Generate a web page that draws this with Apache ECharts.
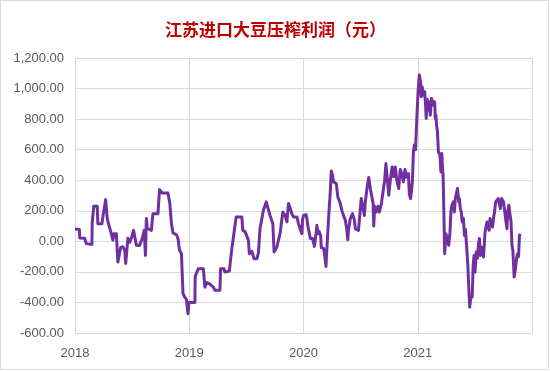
<!DOCTYPE html>
<html>
<head>
<meta charset="utf-8">
<script src="https://cdn.jsdelivr.net/npm/echarts@6/dist/echarts.min.js"></script>
<style>
html,body{margin:0;padding:0;background:#fff;}
#c{width:550px;height:371px;}
</style>
</head>
<body>
<div id="c"></div>
<script>
var titleText = '江苏进口大豆压榨利润（元）';
var yearTicks = [2018, 2019, 2020, 2021, 2022];
var yTicks = [-600, -400, -200, 0, 200, 400, 600, 800, 1000, 1200];

var profit2018 = [['2018-01-01',80],['2018-01-15',78],['2018-01-16',22],['2018-02-01',20],['2018-02-06',-15],['2018-02-24',-20],['2018-02-25',120],['2018-03-02',230],['2018-03-13',230],['2018-03-15',115],['2018-03-28',115],['2018-03-31',160],['2018-04-09',273],['2018-04-14',150],['2018-04-18',115],['2018-04-27',50],['2018-05-02',7],['2018-05-05',50],['2018-05-13',50],['2018-05-18',-135],['2018-05-24',-135],['2018-05-27',-40],['2018-06-03',-35],['2018-06-09',-60],['2018-06-12',-145],['2018-06-17',-145],['2018-06-19',20],['2018-06-25',-5],['2018-06-30',20],['2018-07-07',72],['2018-07-11',60],['2018-07-16',-25],['2018-07-26',-28],['2018-08-01',-35],['2018-08-04',20],['2018-08-10',72],['2018-08-14',-92],['2018-08-17',149],['2018-08-20',85],['2018-08-25',98],['2018-09-02',72],['2018-09-07',181],['2018-09-23',181],['2018-09-28',339],['2018-10-06',317],['2018-10-25',317],['2018-10-31',247],['2018-11-05',118],['2018-11-10',55],['2018-11-21',43],['2018-11-26',20],['2018-12-01',-59],['2018-12-07',-80],['2018-12-12',-341],['2018-12-17',-363],['2018-12-23',-380],['2018-12-28',-474],['2018-12-31',-400]];

var profit2019 = [['2019-01-19',-400],['2019-01-20',-230],['2019-01-30',-179],['2019-02-15',-179],['2019-02-20',-300],['2019-02-26',-270],['2019-03-08',-280],['2019-03-19',-300],['2019-03-24',-320],['2019-04-09',-320],['2019-04-11',-179],['2019-04-22',-179],['2019-04-25',-201],['2019-05-09',-195],['2019-05-17',-48],['2019-05-22',-40],['2019-05-31',160],['2019-06-18',160],['2019-06-21',72],['2019-06-28',65],['2019-07-09',7],['2019-07-12',-81],['2019-07-20',-65],['2019-07-27',-114],['2019-08-05',-114],['2019-08-10',-75],['2019-08-15',83],['2019-08-21',83],['2019-08-26',203],['2019-09-04',258],['2019-09-09',220],['2019-09-16',170],['2019-09-25',116],['2019-09-29',-70],['2019-10-08',-37],['2019-10-18',50],['2019-10-27',192],['2019-11-03',170],['2019-11-09',127],['2019-11-14',247],['2019-11-19',220],['2019-11-25',180],['2019-11-30',160],['2019-12-05',170],['2019-12-11',160],['2019-12-16',116],['2019-12-21',83],['2019-12-27',50],['2019-12-29',140]];

var profit2020 = [['2020-01-01',170],['2020-01-09',175],['2020-01-12',149],['2020-01-15',98],['2020-01-19',61],['2020-01-23',18],['2020-01-30',18],['2020-02-02',7],['2020-02-05',-33],['2020-02-10',50],['2020-02-13',105],['2020-02-16',50],['2020-02-20',65],['2020-02-25',39],['2020-02-27',-41],['2020-03-05',-45],['2020-03-08',-77],['2020-03-13',-164],['2020-03-16',-45],['2020-03-21',138],['2020-03-27',334],['2020-03-30',461],['2020-04-03',433],['2020-04-06',389],['2020-04-12',400],['2020-04-15',378],['2020-04-20',291],['2020-04-25',285],['2020-04-28',247],['2020-05-03',203],['2020-05-08',170],['2020-05-14',138],['2020-05-19',72],['2020-05-22',11],['2020-05-24',72],['2020-05-30',149],['2020-06-06',181],['2020-06-12',140],['2020-06-15',83],['2020-06-20',90],['2020-06-25',72],['2020-07-01',72],['2020-07-04',280],['2020-07-09',280],['2020-07-14',170],['2020-07-17',258],['2020-07-23',356],['2020-07-28',418],['2020-08-02',346],['2020-08-07',356],['2020-08-11',247],['2020-08-13',100],['2020-08-16',230],['2020-08-21',192],['2020-08-27',230],['2020-08-31',192],['2020-09-06',240],['2020-09-11',313],['2020-09-17',400],['2020-09-21',509],['2020-09-26',400],['2020-09-30',302],['2020-10-05',400],['2020-10-11',487],['2020-10-16',422],['2020-10-21',487],['2020-10-26',400],['2020-11-01',346],['2020-11-06',470],['2020-11-11',444],['2020-11-16',390],['2020-11-21',470],['2020-11-26',420],['2020-12-02',444],['2020-12-05',310],['2020-12-09',280],['2020-12-12',330],['2020-12-15',400],['2020-12-18',585],['2020-12-21',630],['2020-12-25',600],['2020-12-29',805]];

var profit2021 = [['2021-01-02',979],['2021-01-06',1089],['2021-01-10',1045],['2021-01-12',946],['2021-01-15',1012],['2021-01-19',957],['2021-01-23',980],['2021-01-26',892],['2021-01-28',805],['2021-01-31',930],['2021-02-04',859],['2021-02-07',913],['2021-02-10',826],['2021-02-14',935],['2021-02-17',946],['2021-02-20',892],['2021-02-24',913],['2021-02-26',805],['2021-02-28',826],['2021-03-02',761],['2021-03-05',717],['2021-03-08',585],['2021-03-13',565],['2021-03-16',454],['2021-03-19',575],['2021-03-21',480],['2021-03-23',433],['2021-03-26',127],['2021-03-28',-81],['2021-04-01',50],['2021-04-06',40],['2021-04-10',-26],['2021-04-14',60],['2021-04-17',192],['2021-04-20',236],['2021-04-25',258],['2021-04-28',192],['2021-05-01',280],['2021-05-05',290],['2021-05-08',346],['2021-05-12',258],['2021-05-14',280],['2021-05-17',214],['2021-05-20',192],['2021-05-23',127],['2021-05-27',150],['2021-05-30',39],['2021-06-02',80],['2021-06-06',-26],['2021-06-10',-157],['2021-06-13',-300],['2021-06-16',-431],['2021-06-19',-376],['2021-06-24',-360],['2021-06-27',-157],['2021-06-30',-92],['2021-07-03',-201],['2021-07-07',-70],['2021-07-11',-110],['2021-07-14',-15],['2021-07-17',18],['2021-07-20',-92],['2021-07-23',-37],['2021-07-27',-55],['2021-07-30',-103],['2021-08-01',-37],['2021-08-04',61],['2021-08-08',50],['2021-08-10',127],['2021-08-14',138],['2021-08-17',72],['2021-08-20',149],['2021-08-25',127],['2021-08-28',94],['2021-08-31',149],['2021-09-04',203],['2021-09-07',258],['2021-09-11',270],['2021-09-15',280],['2021-09-19',270],['2021-09-22',214],['2021-09-26',280],['2021-09-29',280],['2021-10-02',258],['2021-10-04',225],['2021-10-06',192],['2021-10-10',127],['2021-10-13',83],['2021-10-15',192],['2021-10-19',236],['2021-10-22',225],['2021-10-26',127],['2021-10-29',-26],['2021-11-01',-60],['2021-11-05',-234],['2021-11-09',-179],['2021-11-13',-110],['2021-11-16',-81],['2021-11-19',-100],['2021-11-22',39],['2021-11-24',50]];

function decYear(s) {
  var p = s.split('-');
  var y = +p[0], m = +p[1], d = +p[2];
  var t0 = Date.UTC(y, 0, 1), t1 = Date.UTC(y + 1, 0, 1);
  return y + (Date.UTC(y, m - 1, d) - t0) / (t1 - t0);
}
function fmt(v) {
  var neg = v < 0;
  var s = Math.abs(v).toFixed(2);
  var parts = s.split('.');
  parts[0] = parts[0].replace(/\B(?=(\d{3})+(?!\d))/g, ',');
  return (neg ? '-' : '') + parts.join('.');
}

var seriesData = [].concat(profit2018, profit2019, profit2020, profit2021).map(function (p) {
  return [decYear(p[0]), p[1]];
});

var chart = echarts.init(document.getElementById('c'), null, {renderer: 'canvas'});
var font = 'Liberation Sans';
chart.setOption({
  animation: false,
  backgroundColor: '#ffffff',
  title: {
    text: titleText,
    left: 160,
    top: 16,
    textStyle: {fontFamily: 'Noto Sans CJK SC', fontSize: 17, fontWeight: 'bold', color: '#C00000'}
  },
  graphic: [{
    type: 'rect', silent: true, z: -1,
    shape: {x: 0.5, y: 0.5, width: 548, height: 369},
    style: {fill: null, stroke: '#d9d9d9', lineWidth: 1}
  }],
  grid: {left: 75, right: 18, top: 58, bottom: 38},
  xAxis: {
    type: 'value',
    min: yearTicks[0],
    max: yearTicks[yearTicks.length - 1],
    interval: 1,
    axisLine: {show: true, lineStyle: {color: '#d9d9d9', width: 1}},
    axisTick: {show: false},
    splitLine: {show: true, lineStyle: {color: '#d9d9d9', width: 1}},
    axisLabel: {
      margin: 14,
      color: '#595959', fontFamily: font, fontSize: 13,
      formatter: function (v) { return v < yearTicks[yearTicks.length - 1] ? String(v) : ''; }
    }
  },
  yAxis: {
    type: 'value',
    min: yTicks[0],
    max: yTicks[yTicks.length - 1],
    interval: 200,
    axisLine: {show: false},
    axisTick: {show: false},
    splitLine: {show: true, lineStyle: {color: '#d9d9d9', width: 1}},
    axisLabel: {margin: 11, color: '#595959', fontFamily: font, fontSize: 13, formatter: fmt}
  },
  series: [{
    type: 'line',
    data: seriesData,
    showSymbol: false,
    symbol: 'none',
    lineStyle: {color: '#7030A0', width: 3, join: 'round'},
    itemStyle: {color: '#7030A0'}
  }]
});
</script>
</body>
</html>
